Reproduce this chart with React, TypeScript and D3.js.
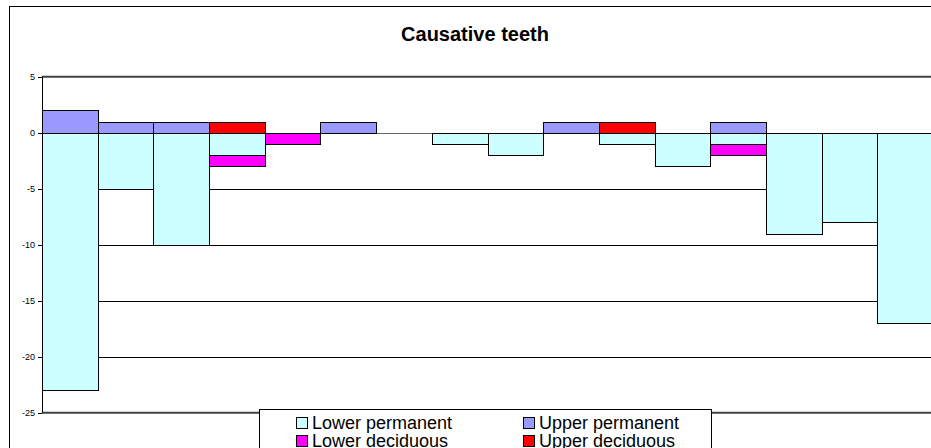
import React from "react";
import * as d3 from "d3";

const categories = ["1","2","3","4","5","6","7","8","9","10","11","12","13","14","15","16"];
const lowerPermanent = [-23, -5, -10, -2, 0, 0, 0, -1, -2, 0, -1, -3, -1, -9, -8, -17];
const upperPermanent = [2, 1, 1, 0, 0, 1, 0, 0, 0, 1, 0, 0, 1, 0, 0, 0];
const lowerDeciduous = [0, 0, 0, -1, -1, 0, 0, 0, 0, 0, 0, 0, -1, 0, 0, 0];
const upperDeciduous = [0, 0, 0, 1, 0, 0, 0, 0, 0, 0, 1, 0, 0, 0, 0, 0];
const seriesNames = ["Lower permanent", "Upper permanent", "Lower deciduous", "Upper deciduous"];
const seriesColors = ["#CCFFFF", "#9999FF", "#FF00FF", "#FF0000"];
const yTicks = [5, 0, -5, -10, -15, -20, -25];

const W = 931, H = 448;
const plotLeft = 42, plotRight = 933, plotTop = 76.7, plotBottom = 412.7;

export default function App() {
  const rows = categories.map((c, i) => ({
    cat: c,
    [seriesNames[0]]: lowerPermanent[i],
    [seriesNames[1]]: upperPermanent[i],
    [seriesNames[2]]: lowerDeciduous[i],
    [seriesNames[3]]: upperDeciduous[i],
  }));
  const stacked = d3.stack<any>().keys(seriesNames).offset(d3.stackOffsetDiverging)(rows);
  const x = d3.scaleBand().domain(categories).range([plotLeft, plotRight]).padding(0);
  const y = d3.scaleLinear().domain([-25, 5]).range([plotBottom, plotTop]);
  const px = (v: number) => Math.round(v) + 0.5;
  const font = "'Liberation Sans', Arial, sans-serif";

  const legendItems = seriesNames.map((n, i) => ({
    name: n,
    color: seriesColors[i],
    col: i % 2,
    row: Math.floor(i / 2),
  }));

  return (
    <svg width={W} height={H} style={{ position: "absolute", left: 0, top: 0, display: "block" }}>
      <rect x={0} y={0} width={W} height={H} fill="#fff" />
      <rect x={9.5} y={6.5} width={1000} height={1000} fill="none" stroke="#000" strokeWidth={1} />
      <text x={475} y={41} textAnchor="middle" fontFamily={font} fontWeight="bold" fontSize={20} fill="#000">
        Causative teeth
      </text>
      {/* gridlines */}
      {yTicks.filter(t => t !== 5 && t !== -25 && t !== 0).map(t => (
        <line key={t} x1={plotLeft} x2={plotRight} y1={px(y(t))} y2={px(y(t))} stroke="#000" strokeWidth={1} />
      ))}
      <line x1={plotLeft} x2={plotRight} y1={px(y(0))} y2={px(y(0))} stroke="#666" strokeWidth={1} />
      <line x1={plotLeft} x2={plotRight} y1={y(5)} y2={y(5)} stroke="#404040" strokeWidth={2} />
      {/* bars */}
      {stacked.map((s, si) => (
        <g key={s.key}>
          {s.map((d, i) => {
            if (d[0] === d[1]) return null;
            const x0 = px(x(categories[i])!);
            const x1 = px(x(categories[i])! + x.bandwidth());
            const ya = px(y(Math.max(d[0], d[1])));
            const yb = px(y(Math.min(d[0], d[1])));
            return (
              <rect key={i} x={x0} y={ya} width={x1 - x0} height={yb - ya}
                fill={seriesColors[si]} stroke="#000" strokeWidth={1} />
            );
          })}
        </g>
      ))}
      <line x1={plotLeft} x2={plotRight} y1={y(-25)} y2={y(-25)} stroke="#404040" strokeWidth={2} />
      {/* y axis */}
      <line x1={px(plotLeft)} x2={px(plotLeft)} y1={plotTop} y2={plotBottom} stroke="#000" strokeWidth={1} />
      {yTicks.map(t => (
        <g key={t}>
          <line x1={38} x2={plotLeft} y1={px(y(t))} y2={px(y(t))} stroke="#000" strokeWidth={1} />
          <text x={35} y={y(t) + 3.2} textAnchor="end" fontFamily={font} fontSize={9} fill="#000">{t}</text>
        </g>
      ))}
      {/* legend */}
      <rect x={259.5} y={409.5} width={452} height={60} fill="#fff" stroke="#000" strokeWidth={1} />
      {legendItems.map(it => {
        const lx = it.col === 0 ? 296 : 523;
        const ly = 417.5 + it.row * 18;
        return (
          <g key={it.name}>
            <rect x={lx + 0.5} y={ly} width={11} height={11} fill={it.color} stroke="#000" strokeWidth={1} />
            <text x={lx + 16} y={ly + 11.5} fontFamily={font} fontSize={18} fill="#000">{it.name}</text>
          </g>
        );
      })}
    </svg>
  );
}
